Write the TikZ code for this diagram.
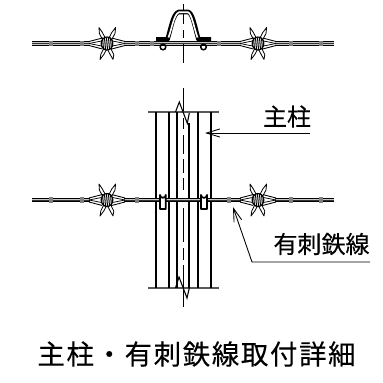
\documentclass[tikz,border=0pt]{standalone}
\usepackage{fontspec}
\newfontfamily\cjk[FakeBold=0.25]{Noto Sans CJK JP}
\usetikzlibrary{arrows.meta}
\tikzset{
  heavy/.style={line width=1.3pt,black},
  grayline/.style={line width=0.8pt,black!65},
  axis/.style={line width=0.65pt,black},
  lead/.style={line width=0.65pt,black},
  strand/.style={line width=0.65pt,black},
  labeltext/.style={font=\cjk\fontsize{18}{19}\selectfont,inner sep=0pt,text=black},
  titletext/.style={font=\cjk\fontsize{20.6}{22}\selectfont,inner sep=0pt,text=black},
  clip shape/.style={line width=1.3pt,fill=white,line join=round},
}
\newcommand{\wirerun}[3]{% x0, x1, y
  \draw[line width=3.6pt,black!22] (#1,#3) -- (#2,#3);
  \draw[strand] (#1,#3-1.9) -- (#2,#3-1.9);
  \draw[strand] (#1,#3+1.9) -- (#2,#3+1.9);
  \draw[line width=0.6pt,black!80] (#1,#3) -- (#2,#3);
}
\newcommand{\barb}[2]{% x, y
  \begin{scope}[shift={(#1,#2)}]
    \fill[white] (-17,-6) rectangle (17,6);
    \foreach \s in {-1,1} {
      \draw[line width=0.65pt] (\s*18,-2) -- (\s*5,-5.4);
      \draw[line width=0.65pt] (\s*18,2) -- (\s*5,5.4);
      \draw[line width=0.55pt] (\s*18,0) -- (\s*5,-2.6);
      \draw[line width=0.55pt] (\s*18,0) -- (\s*5,2.6);
    }
    \draw[line width=0.6pt,line join=round] (-8,-16) -- (-4.6,-11) -- (6.8,11) -- (6,16) -- (3.2,11) -- (-7.6,-10) -- cycle;
    \draw[line width=0.6pt,line join=round] (8.6,-16) -- (4.8,-11) -- (-6.2,11) -- (-7,16) -- (-3.2,11) -- (8,-10) -- cycle;
    \fill[white] (0,0) ellipse (5.8 and 6.5);
    \draw[line width=0.9pt] (0,0) ellipse (5.8 and 6.5);
    \foreach \k in {-4,-2,0,2,4}
      \draw[line width=0.75pt] (\k-0.5,-6) -- (\k+0.5,6);
  \end{scope}
}
\newcommand{\knot}[2]{\fill[black!50] (#1-1.6,#2-2.9) rectangle (#1+1.6,#2+2.9);}
\newcommand{\clipshape}[3]{% x0, x1, ytop
  \draw[clip shape] (#1,#3+17) -- (#1,#3+2.9) arc[start angle=180,end angle=0,radius=(#2-#1)/2] -- (#2,#3+17) -- cycle;
}
\begin{document}
\begin{tikzpicture}[x=0.75pt,y=-0.75pt]
\useasboundingbox (0,0) rectangle (383,383);
\fill[white] (0,0) rectangle (383,383);
% upper wire
\wirerun{32}{334}{43.5}
\foreach \x in {51,82,137,152,219,291,321} {\knot{\x}{43.5}}
\barb{107}{43.5}
\barb{258}{43.5}
% centre line upper
\draw[axis] (183.5,4) -- (183.5,24) (183.5,30) -- (183.5,38) (183.5,44) -- (183.5,63);
\draw[axis] (183.5,88) -- (183.5,113);
% hat
\draw[line width=3.4pt,black,line join=round] (156,39.5) -- (167.5,39.5) .. controls (171,28) and (173,14) .. (178.5,12) -- (188.5,12) .. controls (193,14) and (195,28) .. (198.5,39.5) -- (211,39.5);
\draw[line width=1.2pt,white,line join=round] (168.5,37.5) .. controls (172,28) and (174,14) .. (179,12.2) -- (188,12.2) .. controls (192,14) and (194,28) .. (197.5,37.5);
\draw[line width=1.1pt] (163,47) circle (2.8);
\draw[line width=1.1pt] (203.5,47) circle (2.8);
% post
\draw[grayline] (148,112) -- (219,112) (148,288) -- (219,288);
\draw[heavy] (156,112) -- (156,288) (169,112) -- (169,288) (177,112) -- (177,288) (189,123) -- (189,288) (198,112) -- (198,288) (211,112) -- (211,288);
\fill[white] (178,113) rectangle (188.2,287);
\draw[line width=0.8pt] (175.5,112) -- (179.3,102) -- (187.3,123.3) -- (189.3,113);
\draw[line width=0.8pt] (175.5,288) -- (179,277) -- (187,298) -- (189.3,288);
% centre line lower
\draw[axis] (183.5,118) -- (183.5,129) (183.5,135) -- (183.5,154) (183.5,159) -- (183.5,173) (183.5,178) -- (183.5,190);
\draw[axis] (183.5,208) -- (183.5,242) (183.5,248) -- (183.5,260) (183.5,265) -- (183.5,307);
% lower wire
\wirerun{32}{334}{200}
\foreach \x in {51,82,137,229,291,321} {\knot{\x}{200}}
\barb{107}{200}
\barb{258}{200}
% clips
\clipshape{160}{165.8}{192}
\clipshape{201}{207}{192}
% labels
\node[labeltext,anchor=center] (shu) at (287,116.5) {主柱};
\coordinate (shutip) at (205,133);
\coordinate (shuend) at (310,133);
\draw[lead,-{Straight Barb[length=10pt,width=6pt]}] (shuend) -- (shutip);
\node[labeltext,anchor=center] (yu) at (321.5,244) {有刺鉄線};
\coordinate (yuend) at (370,262);
\coordinate (yukink) at (252,262);
\coordinate (yutip) at (233,207);
\draw[lead,-{Straight Barb[length=10pt,width=6pt]}] (yuend) -- (yukink) -- (yutip);
\node[titletext,anchor=center] (title) at (196.5,354) {主\hspace{1.2pt}柱\hspace{1.2pt}・\hspace{1.2pt}有\hspace{1.2pt}刺\hspace{1.2pt}鉄\hspace{1.2pt}線\hspace{1.2pt}取\hspace{1.2pt}付\hspace{1.2pt}詳\hspace{1.2pt}細};
\end{tikzpicture}
\end{document}
